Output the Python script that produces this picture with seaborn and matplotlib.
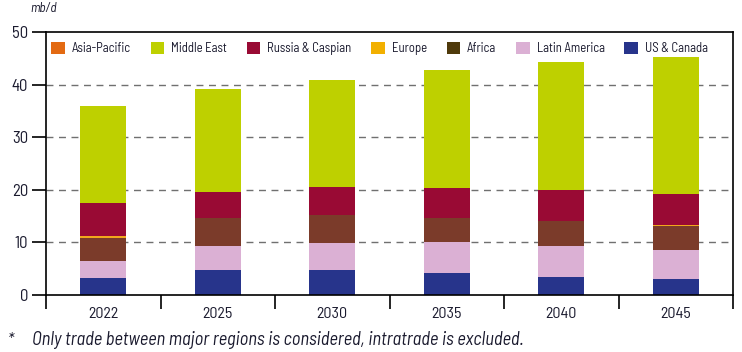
import matplotlib
matplotlib.use("Agg")
import matplotlib.pyplot as plt
import seaborn as sns
import pandas as pd
import numpy as np
from matplotlib.patches import Patch
from matplotlib.ticker import FixedLocator

years = ["2022", "2025", "2030", "2035", "2040", "2045"]
us_canada = [3.3, 4.7, 4.7, 4.15, 3.45, 3.07]
latin_america = [3.2, 4.55, 5.2, 5.85, 5.95, 5.53]
africa = [4.4, 5.45, 5.4, 4.6, 4.7, 4.6]
europe = [0.4, 0.0, 0.0, 0.1, 0.0, 0.2]
russia_caspian = [6.2, 4.8, 5.3, 5.65, 5.8, 5.8]
middle_east = [18.5, 19.7, 20.2, 22.5, 24.4, 26.05]
asia_pacific = [0.0, 0.0, 0.0, 0.0, 0.0, 0.0]

legend_labels = ["Asia-Pacific", "Middle East", "Russia & Caspian", "Europe",
                 "Africa", "Latin America", "US & Canada"]
y_ticks = [0, 10, 20, 30, 40, 50]

sns.set_style("white")
plt.rcParams['font.family'] = ['Barlow Semi Condensed', 'DejaVu Sans']
TXT = "#1a1a2e"

# stacking order bottom -> top
stack = [
    ("US & Canada", us_canada, "#27348B", "#27348B"),
    ("Latin America", latin_america, "#DBB0D4", "#DBB0D4"),
    ("Africa", africa, "#7B3B2A", "#4F3A0B"),
    ("Europe", europe, "#F2A81D", "#F2B000"),
    ("Russia & Caspian", russia_caspian, "#990A34", "#990A34"),
    ("Middle East", middle_east, "#BED000", "#BED000"),
    ("Asia-Pacific", asia_pacific, "#E36A12", "#E36A12"),
]

fig = plt.figure(figsize=(7.42, 3.52), dpi=100)
ax = fig.add_axes([46 / 742, 1 - 295 / 352, (733 - 46) / 742, (295 - 32) / 352])

bottom = np.zeros(len(years))
for name, vals, col, _ in stack:
    df = pd.DataFrame({"year": years, "value": vals})
    sns.barplot(data=df, x="year", y="value", color=col, width=0.4,
                bottom=bottom, ax=ax, linewidth=0, saturation=1, errorbar=None,
                zorder=3)
    bottom = bottom + np.array(vals)

ax.set_xlim(-0.5, len(years) - 0.5)
ax.set_ylim(0, 50)
ax.set_yticks(y_ticks)
ax.set_xlabel("")
ax.set_ylabel("")

for y in y_ticks[1:-1]:
    ax.axhline(y, color="#707070", lw=1.0, ls=(0, (5, 4)), zorder=1)

for s in ["left", "right", "top", "bottom"]:
    ax.spines[s].set_visible(True)
    ax.spines[s].set_color("black")
    ax.spines[s].set_linewidth(1.2)
    ax.spines[s].set_zorder(5)

ax.tick_params(axis="y", which="major", length=10, width=1.2, color="black",
               labelsize=12, labelcolor=TXT, pad=3, direction="out", left=True)
ax.tick_params(axis="x", which="major", length=0, labelsize=11.5, labelcolor=TXT, pad=9)
ax.xaxis.set_minor_locator(FixedLocator(np.arange(-0.5, len(years), 1.0)))
ax.tick_params(axis="x", which="minor", length=10, width=1.2, color="black",
               direction="out", bottom=True)

handles = {n: Patch(facecolor=lc, edgecolor="none", label=n) for n, _, _, lc in stack}
ax.legend(handles=[handles[n] for n in legend_labels], labels=legend_labels,
          ncol=7, loc="upper left", bbox_to_anchor=(-0.006, 1.0), frameon=False,
          fontsize=9.2, handlelength=1.05, handleheight=1.15, handletextpad=0.55,
          columnspacing=1.55, borderaxespad=0.35, labelcolor=TXT)

fig.text(30 / 742, 1 - 8 / 352, "mb/d", fontsize=9.5, style="italic",
         color=TXT, va="center", ha="left")
fig.text(8 / 742, 1 - 340 / 352, "*", fontsize=12, style="italic",
         color=TXT, va="center", ha="left")
fig.text(32 / 742, 1 - 340 / 352,
         "Only trade between major regions is considered, intratrade is excluded.",
         fontsize=13.3, style="italic", color=TXT, va="center", ha="left")

fig.savefig("out.png", dpi=100)
